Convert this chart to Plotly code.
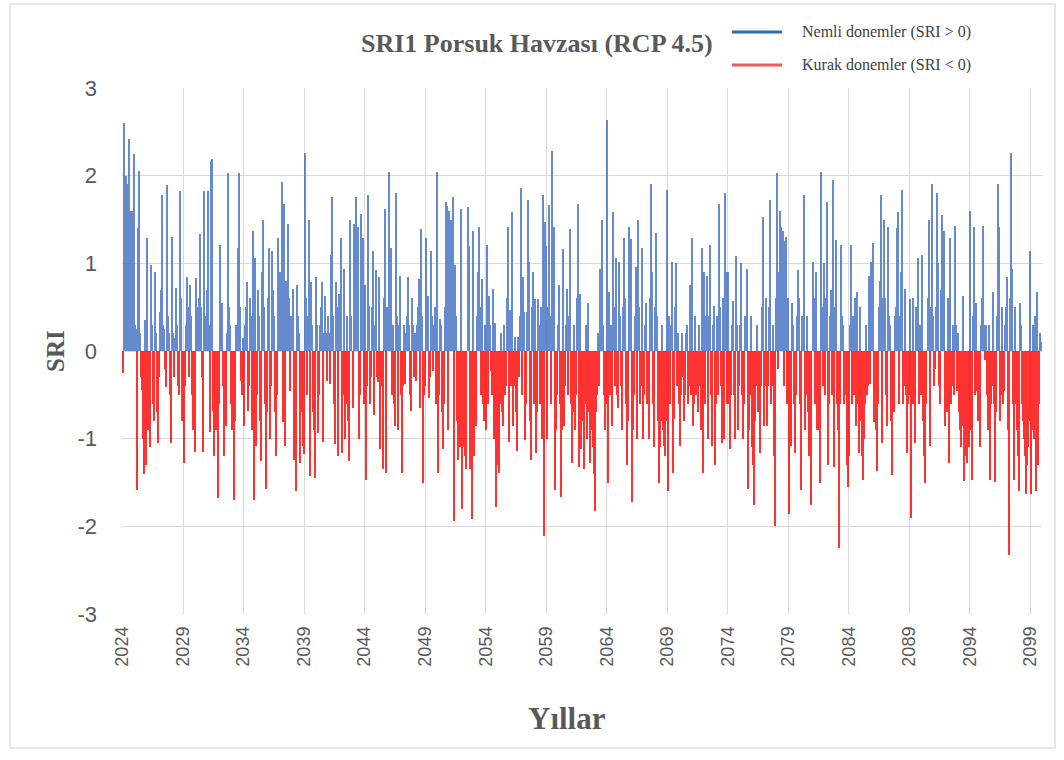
import plotly.graph_objects as go

# ---- data (monthly SRI-1 values, Jan 2024 .. Dec 2099) ----
tick_years = [str(y) for y in range(2024, 2100, 5)]

sri_2024_2028 = [-0.25, 2.6, 1.95, 2.0, 1.9, 1.85, 2.42, 1.6, 1.55, 1.6,
                 1.2, 2.25, 0.3, 0.25, -1.59, 1.4, 2.05, 0.2, -0.3, -0.45,
                 -1.0, -1.4, 0.35, -1.3, 1.29, -0.9, -0.6, -1.1, 0.98, 0.3,
                 -0.6, -0.8, 0.9, 0.2, -0.7, -1.05, -0.3, 0.45, 0.7, 1.78,
                 0.3, 0.25, -0.2, -0.41, 1.89, 0.4, 0.2, -0.5, -1.05, 1.3,
                 0.2, -0.3, 0.15, 0.72, 0.3, -0.4, -0.5, 1.83, 0.6, -0.8]
sri_2029_2033 = [-0.6, -1.28, -0.4, 0.3, 0.84, 0.5, -0.3, 0.75, 0.4, -0.5,
                 -0.9, -0.6, -1.15, 0.83, 0.5, 0.2, 0.6, 1.34, 0.5, -0.3,
                 -1.15, 1.83, 0.4, 0.2, 0.7, 1.83, 0.3, -0.92, 2.17, 2.19,
                 -0.69, -1.2, -0.5, -0.9, -0.3, -1.68, -0.6, 1.21, 0.3, 0.55,
                 -0.4, -1.2, -0.5, -0.85, 0.2, 2.03, 0.5, 0.3, -0.6, -0.9,
                 -0.4, -1.7, -0.8, 0.3, 1.17, 2.03, 0.5, -0.34, -0.5, 0.15]
sri_2034_2038 = [-0.85, 0.3, 0.5, 0.79, -0.69, -0.4, 0.6, 0.4, -0.9, 1.37,
                 -1.7, 1.06, -1.08, -0.5, 0.7, 0.4, -0.8, -1.26, 0.9, 1.49,
                 0.5, -0.6, -1.57, -0.7, 0.6, 1.17, -1.0, -0.4, 1.14, 0.7,
                 0.4, -0.7, -1.2, -0.5, 1.29, 0.6, 0.9, 0.3, 1.93, -0.81,
                 1.68, -1.08, 0.8, 0.5, 1.45, 0.6, -0.46, 0.4, 0.3, 0.71,
                 -1.24, -0.6, -1.6, 0.75, 0.4, 0.2, -1.28, -0.7, -0.4, -1.08]
sri_2039_2043 = [-1.18, 2.26, 0.6, -0.5, 0.4, 1.5, -1.43, 0.79, 0.3, -0.7,
                 -0.9, -1.45, 0.84, 0.3, -0.93, -0.5, 0.3, 0.5, 0.79, -1.04,
                 0.2, 0.63, 0.2, -0.34, 0.4, 0.2, -0.38, 1.1, 1.76, 0.4,
                 -0.6, -1.06, 0.79, 0.5, -1.2, 0.65, 0.3, 1.29, -1.16, -0.5,
                 0.94, -1.0, -0.6, 0.4, -0.8, -1.26, 1.49, 0.4, -0.65, 1.45,
                 0.6, 1.76, 0.5, 1.41, -1.0, -0.5, 1.56, 0.4, 1.29, -0.6]
sri_2044_2048 = [0.75, -1.47, -0.4, 1.78, 0.51, -0.6, -0.3, 0.5, 1.14, -0.73,
                 0.3, 0.92, -0.3, -0.35, 0.84, -1.12, -0.3, -0.4, -1.35, 0.6,
                 1.62, -1.39, 0.5, 0.4, 2.04, 0.5, 1.17, -0.5, 0.3, -0.6,
                 -0.85, 1.8, 0.4, -0.9, 0.3, 0.86, -0.5, -1.39, -0.4, 0.3,
                 -0.38, 0.2, 0.4, 0.84, 0.3, -0.5, -0.69, 0.6, 0.3, -0.3,
                 0.2, -0.34, 0.3, 0.5, 0.82, -0.65, 1.39, 0.4, -1.51, -0.5]
sri_2049_2053 = [-0.4, 1.29, 0.5, 0.63, -0.54, -0.3, 1.14, 0.4, -0.23, 0.3,
                 0.5, -0.6, 2.04, -1.39, -0.5, 0.36, 0.3, -0.7, -1.12, -0.6,
                 0.5, 1.7, 1.65, -0.9, 1.6, 0.9, 1.49, 0.7, 1.76, -1.94,
                 0.98, 0.4, -0.8, -1.24, -0.9, -1.1, 1.62, -1.8, -1.1, -0.9,
                 -1.2, -1.35, 1.64, 1.2, -1.35, -1.1, -1.92, 1.37, -1.2, -0.6,
                 -0.85, 0.4, 0.9, 1.41, 0.5, -0.5, 0.82, -0.61, -0.8, 0.3]
sri_2054_2058 = [-0.9, 1.21, -0.6, 0.63, 0.3, -0.23, -0.5, 0.71, -1.0, 0.32,
                 -1.78, -1.3, -0.9, -1.39, -0.6, 0.2, -0.7, -0.85, 0.3, -0.5,
                 -0.4, 0.6, 1.41, -1.04, 0.47, -0.4, 1.58, -0.85, -0.4, 0.16,
                 -0.7, -1.14, 0.16, -0.3, 0.4, 1.86, -0.5, 0.84, 0.44, -1.02,
                 -0.6, 0.44, 1.72, 1.02, -0.8, -1.24, 0.5, 0.9, -0.6, 0.59,
                 -1.16, -0.7, 0.59, 0.3, -0.6, 0.5, -1.0, 1.78, -2.11, 1.47]
sri_2059_2063 = [1.2, -1.0, 0.5, 1.66, 0.4, -0.6, 2.28, 0.8, 1.41, -1.59,
                 -0.9, -0.5, 0.3, 0.75, -0.6, -1.67, -0.9, 1.16, -0.85, -0.4,
                 0.3, 0.71, -0.5, 0.4, 1.39, -0.6, -1.28, -0.7, 0.3, -0.9,
                 -0.5, 0.6, 1.68, -1.32, 0.65, -1.12, -0.8, -1.35, -0.6, 0.3,
                 -1.0, 0.55, -0.7, -1.28, -0.9, -0.5, -1.1, -1.4, -1.82, -0.7,
                 -0.5, 0.2, -0.4, 0.94, 0.4, 1.49, 0.3, -0.5, -0.9, -0.6]
sri_2064_2068 = [2.63, -1.51, 0.67, -0.5, 0.3, -0.85, 1.58, 0.5, -0.4, 1.06,
                 -0.5, -0.65, 1.02, 0.4, -0.4, -0.9, 0.5, 1.29, 0.6, -0.6,
                 -1.3, -0.8, 1.41, 0.4, 1.28, -1.72, -0.9, -0.5, 0.4, 0.96,
                 -1.0, 1.49, 0.5, -0.6, -0.4, 1.18, -1.0, -0.5, 0.3, 0.55,
                 -0.6, -0.4, -1.0, 0.6, 1.91, 0.9, -0.6, -1.1, 0.5, 1.35,
                 0.4, -0.8, -1.51, -1.1, -0.8, 0.3, -0.9, -1.08, -1.2, -0.8]
sri_2069_2073 = [1.84, -1.6, 0.4, -0.6, 0.3, 1.02, -1.39, -0.77, 0.5, 1.0,
                 -0.4, 0.2, -0.6, -1.08, -0.5, 0.2, -0.3, -0.8, -0.5, 0.2,
                 0.3, -0.6, -0.4, 0.75, -0.5, 1.29, -0.85, -0.6, 0.4, -0.5,
                 -0.7, 0.3, -0.4, -0.9, 1.18, -1.39, 0.9, -0.6, 0.4, 0.86,
                 -1.0, 0.4, 1.21, -0.5, -1.08, 0.3, 0.51, -1.3, -0.6, 0.4,
                 -0.5, 1.68, 0.5, -0.4, -1.05, 0.6, -1.0, 1.8, 0.9, -0.6]
sri_2074_2078 = [0.9, -0.6, -1.12, -0.5, 0.3, 0.57, -0.5, -1.0, 1.08, 0.3,
                 -0.9, -0.4, 0.3, 1.0, -0.5, -1.0, -0.6, 0.4, 0.3, 0.94,
                 -1.57, -0.9, -0.5, 0.4, -1.1, -1.3, -1.76, -0.8, -0.4, 0.3,
                 -0.7, -0.5, -1.16, -0.4, 0.5, 1.53, -0.85, -0.4, 0.6, -0.85,
                 -0.4, 0.5, 1.72, -0.6, -0.4, 0.3, -1.2, -2.0, 0.6, 2.03,
                 -0.2, 0.9, 1.6, 1.41, 0.7, 1.37, -0.4, 1.25, 1.3, -0.6]
sri_2079_2083 = [0.6, -1.86, -0.6, -1.08, 0.55, 0.3, -0.6, -1.16, -0.5, 0.4,
                 0.92, 0.6, -0.6, -1.59, 0.4, 0.3, 1.78, -0.9, -0.5, 0.4,
                 -0.7, -1.2, -0.5, -1.76, 1.02, 0.6, -0.6, 0.9, -0.9, -0.5,
                 -0.9, -1.51, 2.04, 0.5, -0.4, 1.0, -0.5, 0.6, 1.7, -1.3,
                 -0.6, 0.4, 0.7, -0.5, 1.95, -1.32, 0.5, 1.27, -0.6, -0.9,
                 -2.25, -0.6, 1.21, 0.4, 0.3, -0.6, -0.4, -0.5, -1.3, -1.55]
sri_2084_2088 = [-1.2, 0.3, 1.21, -0.6, 0.4, -0.5, 0.6, -0.85, 0.67, -0.6,
                 -1.16, 0.5, -0.8, -1.2, -1.47, -1.0, -0.6, 0.3, -0.5, -0.4,
                 0.86, -0.38, 1.02, 0.5, 1.23, -0.81, -0.5, -0.9, -1.37, -0.6,
                 0.5, 0.8, 1.78, -1.05, 0.6, 1.49, 0.6, -0.5, -0.85, 1.41,
                 0.4, 0.3, -0.8, -1.41, -0.6, -0.7, 0.4, 0.5, 1.4, 1.58,
                 -0.6, 0.4, 0.9, 1.84, -0.6, -0.4, 0.71, -0.5, -1.16, -0.6]
sri_2089_2093 = [-0.5, 0.59, -1.9, -0.6, 0.6, -0.6, -1.05, 0.5, 0.3, 1.06,
                 -0.6, 0.3, -0.5, 1.1, -0.8, -1.2, -1.51, -0.6, 0.6, 1.5,
                 -1.08, 0.5, 1.9, 0.4, -0.4, -0.2, 0.5, 1.8, 1.0, -0.4,
                 -0.6, 0.7, 1.55, 0.8, 1.37, -0.85, -0.5, -0.7, 0.6, -1.28,
                 1.29, -0.6, -0.4, 0.3, -0.5, 1.43, 0.3, -0.46, 0.2, -0.7,
                 -0.9, -1.1, -0.85, 0.63, -1.48, -1.2, -1.1, -1.28, -0.9, -1.1]
sri_2094_2098 = [1.6, -0.9, -1.47, 0.4, 1.41, -0.5, 0.55, -0.46, -0.8, -0.6,
                 -1.1, 0.3, 0.6, 1.43, 0.3, -0.1, 0.3, -0.5, -0.9, 0.3,
                 -1.47, -0.6, -0.4, 0.67, -0.6, -1.49, -0.7, 0.4, 1.91, 1.41,
                 -0.8, -0.5, 0.5, -0.6, -0.46, 0.3, 0.5, 0.84, -0.9, -2.33,
                 0.6, 2.26, 0.94, -0.6, -1.47, 0.5, -0.6, -0.9, -1.2, -1.6,
                 0.55, 0.3, -0.6, -0.8, -1.0, -1.2, -1.63, -1.3, -1.1, -0.8]
sri_2099 = [1.14, -1.63, -0.9, 0.3, -1.0, 0.4, -1.6, 0.67, -1.3, -0.6, 0.2, 0.1]

sri = (sri_2024_2028 + sri_2029_2033 + sri_2034_2038 + sri_2039_2043 +
       sri_2044_2048 + sri_2049_2053 + sri_2054_2058 + sri_2059_2063 +
       sri_2064_2068 + sri_2069_2073 + sri_2074_2078 + sri_2079_2083 +
       sri_2084_2088 + sri_2089_2093 + sri_2094_2098 + sri_2099)

months = list(range(len(sri)))
wet = [v if v > 0 else None for v in sri]
dry = [v if v < 0 else None for v in sri]

BLUE = "#4472C4"
RED = "#FF0000"
GRID = "#D9D9D9"
TXT = "#595959"
SERIF = "Liberation Serif, Times New Roman, serif"
SANS = "Liberation Sans, Arial, sans-serif"

fig = go.Figure()
fig.add_bar(x=months, y=wet, width=1, opacity=0.82,
            marker=dict(color=BLUE, line=dict(width=0)),
            showlegend=False, name="Nemli donemler (SRI > 0)")
fig.add_bar(x=months, y=dry, width=1, opacity=0.8,
            marker=dict(color=RED, line=dict(width=0)),
            showlegend=False, name="Kurak donemler (SRI < 0)")

W, H = 1064, 760
L, R, T, B = 122, 1042, 88, 614


def px(x):
    return (x - L) / (R - L)


def py(y):
    return (B - y) / (B - T)


fig.update_layout(
    width=W, height=H,
    margin=dict(l=L, r=W - R, t=T, b=H - B),
    paper_bgcolor="white", plot_bgcolor="white",
    barmode="overlay", bargap=0,
    showlegend=False,
    xaxis=dict(range=[-0.5, len(sri) - 0.5],
               tickmode="array", tickvals=[i * 60 for i in range(len(tick_years))],
               ticktext=tick_years, tickangle=-90,
               tickfont=dict(family=SANS, size=18, color=TXT),
               showgrid=True, gridcolor=GRID, gridwidth=1,
               zeroline=False, showline=False, ticks="", ticklabelstandoff=8),
    yaxis=dict(range=[-3, 3], tickmode="array", tickvals=[-3, -2, -1, 0, 1, 2, 3],
               ticktext=["-3", "-2", "-1", "0", "1", "2", "3"],
               tickfont=dict(family=SANS, size=22, color=TXT),
               showgrid=True, gridcolor=GRID, gridwidth=1,
               zeroline=False, showline=False, ticks="", ticklabelstandoff=24),
)

annotations = [
    dict(text="<b>SRI1 Porsuk Havzası (RCP 4.5)</b>", x=px(537), y=py(43),
         font=dict(family=SERIF, size=26, color=TXT)),
    dict(text="<b>SRI</b>", x=px(55), y=py(351), textangle=-90,
         font=dict(family=SERIF, size=25, color=TXT)),
    dict(text="<b>Yıllar</b>", x=px(567), y=py(718),
         font=dict(family=SERIF, size=31, color=TXT)),
    dict(text="Nemli donemler (SRI > 0)", x=px(800), y=py(32), xanchor="left",
         font=dict(family=SERIF, size=16, color="#404040")),
    dict(text="Kurak donemler (SRI < 0)", x=px(800), y=py(65), xanchor="left",
         font=dict(family=SERIF, size=16, color="#404040")),
]
for a in annotations:
    a.setdefault("xanchor", "center")
    a.update(xref="paper", yref="paper", yanchor="middle", showarrow=False)
fig.update_layout(annotations=annotations)

shapes = [
    dict(type="line", x0=px(732), x1=px(782), y0=py(32), y1=py(32),
         line=dict(color="#2F6EA5", width=3)),
    dict(type="line", x0=px(732), x1=px(782), y0=py(65), y1=py(65),
         line=dict(color="#F05A5A", width=3)),
    dict(type="rect", x0=px(10), x1=px(1055), y0=py(748), y1=py(4),
         line=dict(color="#D0D0D0", width=1)),
]
for s in shapes:
    s.update(xref="paper", yref="paper", layer="above")
fig.update_layout(shapes=shapes)

fig.write_html("out.html")
